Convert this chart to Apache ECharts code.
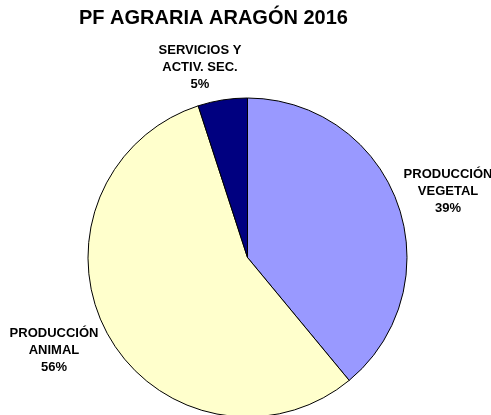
<!DOCTYPE html>
<html>
<head>
<meta charset="utf-8">
<script src="https://cdn.jsdelivr.net/npm/echarts@6/dist/echarts.min.js"></script>
<style>
  html, body { margin: 0; padding: 0; background: #ffffff; }
  #chart { width: 491px; height: 415px; }
</style>
</head>
<body>
<div id="chart"></div>
<script>
// Agricultural final production, Aragón 2016 (shares in %)
var categories = ['PRODUCCIÓN\nVEGETAL', 'PRODUCCIÓN\nANIMAL', 'SERVICIOS Y\nACTIV. SEC.'];
var shares = [39, 56, 5];
var sliceColors = ['#9999FF', '#FFFFCC', '#000080'];

// label anchor points (block centre) for each slice
var labelSpots = [[448, 191], [54, 350], [200, 67]];

var chart = echarts.init(document.getElementById('chart'), null, { renderer: 'canvas' });

chart.setOption({
  backgroundColor: '#ffffff',
  animation: false,
  title: {
    text: 'PF AGRARIA ARAGÓN 2016',
    left: 79,
    top: 8,
    padding: 0,
    textStyle: {
      fontFamily: 'Liberation Sans',
      fontWeight: 'bold',
      fontSize: 20,
      color: '#000000'
    }
  },
  series: [{
    type: 'pie',
    center: [247.5, 257.5],
    radius: 159.5,
    startAngle: 90,
    clockwise: true,
    avoidLabelOverlap: false,
    data: categories.map(function (name, i) {
      return { name: name, value: shares[i], itemStyle: { color: sliceColors[i] } };
    }),
    itemStyle: { borderColor: '#000000', borderWidth: 1 },
    label: {
      show: true,
      position: 'outside',
      formatter: '{b}\n{d}%',
      fontFamily: 'Liberation Sans',
      fontWeight: 'bold',
      fontSize: 13,
      lineHeight: 17,
      color: '#000000',
      align: 'center'
    },
    labelLine: { show: false },
    labelLayout: function (params) {
      var p = labelSpots[params.dataIndex];
      return { x: p[0], y: p[1], align: 'center', verticalAlign: 'middle' };
    },
    emphasis: { disabled: true }
  }]
});
</script>
</body>
</html>
